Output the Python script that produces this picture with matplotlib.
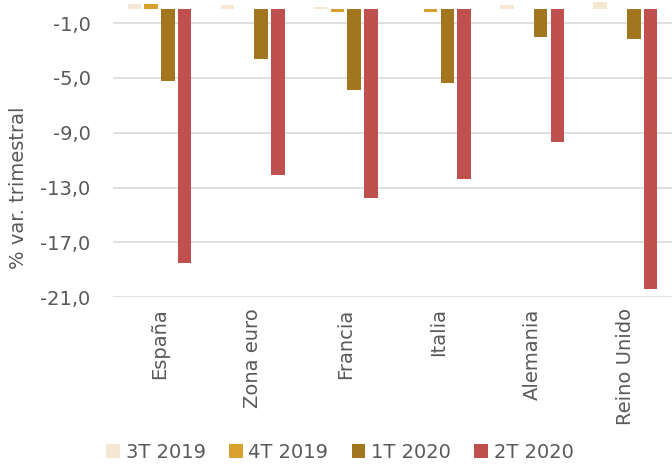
import numpy as np
import matplotlib.pyplot as plt

# Data (quarterly % change)
countries = ["España", "Zona euro", "Francia", "Italia", "Alemania", "Reino Unido"]
q3_2019 = [0.4, 0.3, 0.2, 0.0, 0.3, 0.5]
q4_2019 = [0.4, 0.0, -0.2, -0.2, 0.0, 0.0]
q1_2020 = [-5.2, -3.6, -5.9, -5.4, -2.0, -2.2]
q2_2020 = [-18.5, -12.1, -13.8, -12.4, -9.7, -20.4]
series_names = ["3T 2019", "4T 2019", "1T 2020", "2T 2020"]
colors = ["#F5E8D2", "#D9A02E", "#A2761F", "#C0504D"]
yticks = [-1, -5, -9, -13, -17, -21]

plt.rcParams['font.family'] = ['DejaVu Sans']
text_color = "#595959"

fig = plt.figure(figsize=(6.72, 4.68), dpi=100)
ax = fig.add_axes([0.168, 0.365, 0.832, 0.635])

x = np.arange(len(countries))
width = 0.145
pitch = 0.18
series = [q3_2019, q4_2019, q1_2020, q2_2020]
for i, vals in enumerate(series):
    offset = (i - 1.5) * pitch
    ax.bar(x + offset, vals, width, color=colors[i], label=series_names[i], zorder=3)

ax.set_xlim(-0.5, len(countries) - 0.5)
ax.set_ylim(-21, 0.68)
ax.set_yticks(yticks)
ax.set_yticklabels([f"{v},0" for v in yticks], color=text_color, fontsize=14)
ax.set_xticks(x)
ax.set_xticklabels(countries, rotation=90, color=text_color, fontsize=14, va="top")
ax.tick_params(axis="both", length=0)
ax.tick_params(axis="x", pad=8)
ax.tick_params(axis="y", pad=16)
ax.grid(axis="y", color="#D9D9D9", linewidth=1.2, zorder=0)
for s in ax.spines.values():
    s.set_visible(False)

fig.text(0.027, 1 - 188 / 468, "% var. trimestral", rotation=90, color=text_color,
         fontsize=14, ha="center", va="center")

fig.legend(loc="center", bbox_to_anchor=(0.506, 0.034), ncol=4, frameon=False,
           fontsize=14, labelcolor=text_color, handlelength=0.7, handleheight=0.7,
           handletextpad=0.3, columnspacing=1.2)

fig.savefig("out.png", dpi=100)
